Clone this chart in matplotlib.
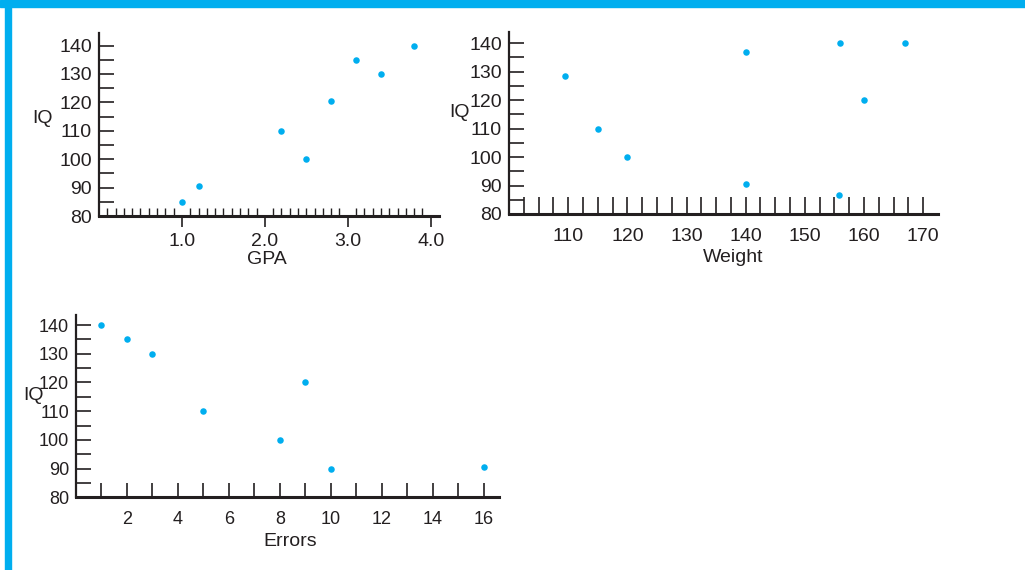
import matplotlib
matplotlib.use("Agg")
import matplotlib.pyplot as plt
from matplotlib.patches import Rectangle
import numpy as np

# data
gpa = [1.0, 1.2, 2.2, 2.5, 2.8, 3.1, 3.4, 3.8]
iq_gpa = [85, 90.5, 110, 100, 120.5, 135, 130, 140]

weight = [109.5, 115, 120, 140, 140, 155.8, 156, 160, 167]
iq_weight = [128.5, 110, 100, 137, 90.5, 86.5, 140, 120, 140]

errors = [1, 2, 3, 5, 8, 9, 10, 16]
iq_errors = [140, 135, 130, 110, 100, 120, 90, 90.5]

dot = "#00AEEF"
ink = "#231F20"

plt.rcParams['font.family'] = ['Liberation Sans', 'DejaVu Sans']
plt.rcParams['font.size'] = 14
plt.rcParams['text.color'] = ink
plt.rcParams['axes.labelcolor'] = ink
plt.rcParams['xtick.color'] = ink
plt.rcParams['ytick.color'] = ink

fig = plt.figure(figsize=(10.25, 5.7), dpi=100)

# blue frame (top and left only)
fig.patches.append(Rectangle((0, 1 - 7/570), 1, 7/570, transform=fig.transFigure,
                             color=dot, zorder=0))
fig.patches.append(Rectangle((5/1025, 0), 6/1025, 1, transform=fig.transFigure,
                             color=dot, zorder=0))


def style(ax, ymax, xmin, xmax, xlabel, xlab_pos, iq_pos, fs):
    for s in ['top', 'right']:
        ax.spines[s].set_visible(False)
    ax.spines['left'].set_linewidth(1.6)
    ax.spines['bottom'].set_linewidth(2.2)
    ax.spines['left'].set_color(ink)
    ax.spines['bottom'].set_color(ink)
    ax.set_ylim(80, ymax)
    ax.set_xlim(xmin, xmax)
    ax.set_yticks(np.arange(80, 141, 10))
    ax.set_yticks(np.arange(85, 140, 10), minor=True)
    ax.tick_params(axis='y', which='both', direction='in', length=11, width=1.2, pad=5,
                   labelsize=fs)
    ax.tick_params(axis='x', labelsize=fs)
    ax.set_xlabel(xlabel, va='center', fontsize=14)
    ax.xaxis.set_label_coords(*xlab_pos)
    ax.set_ylabel('IQ', rotation=0, ha='center', va='center', fontsize=14)
    ax.yaxis.set_label_coords(*iq_pos)


# GPA
ax1 = fig.add_axes([99/1025, 1 - 216/570, 340/1025, 183/570])
ax1.scatter(gpa, iq_gpa, s=22, color=dot, linewidths=0, zorder=3)
style(ax1, 144.4, 0, 4.1, 'GPA', (0.495, -0.24), (-0.165, 0.535), 14)
ax1.set_xticks([1.0, 2.0, 3.0, 4.0])
ax1.set_xticklabels(['1.0', '2.0', '3.0', '4.0'])
ax1.set_xticks(np.arange(0.1, 4.05, 0.1), minor=True)
ax1.tick_params(axis='x', which='major', direction='out', length=8, width=1.2, pad=4)
ax1.tick_params(axis='x', which='minor', direction='in', length=6, width=1.0)

# Weight
ax2 = fig.add_axes([509/1025, 1 - 214/570, 429/1025, 181.7/570])
ax2.scatter(weight, iq_weight, s=22, color=dot, linewidths=0, zorder=3)
style(ax2, 143.8, 100, 172.5, 'Weight', (0.522, -0.242), (-0.115, 0.556), 14)
ax2.set_xticks(np.arange(110, 171, 10))
ax2.set_xticks(np.arange(102.5, 171, 2.5), minor=True)
ax2.tick_params(axis='x', which='both', direction='in', length=12, width=1.2, pad=10)

# Errors
ax3 = fig.add_axes([76/1025, 1 - 497.3/570, 423/1025, 182.3/570])
ax3.scatter(errors, iq_errors, s=22, color=dot, linewidths=0, zorder=3)
style(ax3, 143.5, 0, 16.6, 'Errors', (0.506, -0.24), (-0.10, 0.556), 13)
ax3.set_xticks(np.arange(2, 17, 2))
ax3.set_xticks(np.arange(1, 17, 1), minor=True)
ax3.tick_params(axis='x', which='both', direction='in', length=10, width=1.2, pad=10)

fig.savefig('out.png', dpi=100)
